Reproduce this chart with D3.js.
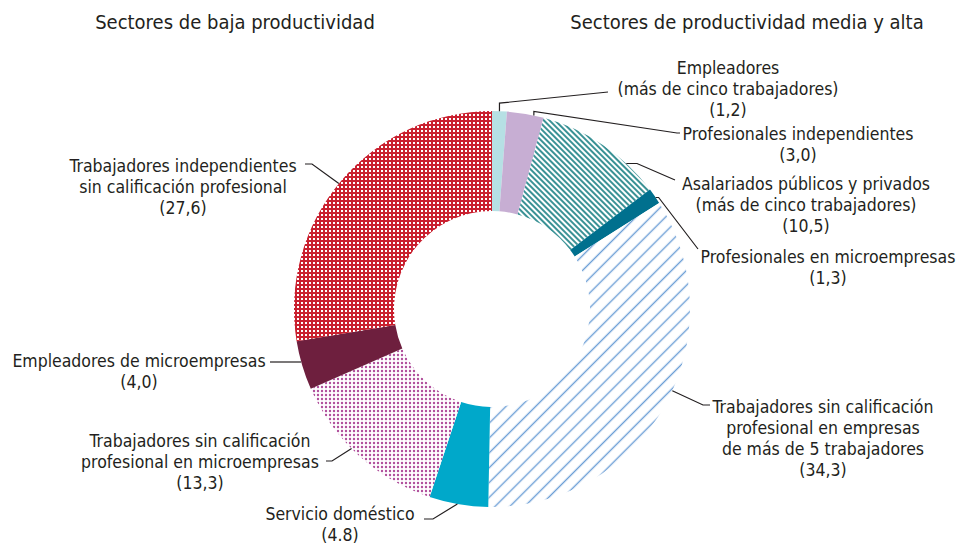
<!DOCTYPE html>
<html>
<head>
<meta charset="utf-8">
<script src="https://cdn.jsdelivr.net/npm/d3@7"></script>
<style>
  html, body { margin: 0; padding: 0; background: #fff; }
  svg text { font-family: "Liberation Sans Narrow", "DejaVu Sans Condensed", "Roboto", sans-serif; fill: #231f20; }
</style>
</head>
<body>
<svg id="chart" width="961" height="544"></svg>
<script>
// ---- Data ----
const categories = [
  "Empleadores (más de cinco trabajadores)",
  "Profesionales independientes",
  "Asalariados públicos y privados (más de cinco trabajadores)",
  "Profesionales en microempresas",
  "Trabajadores sin calificación profesional en empresas de más de 5 trabajadores",
  "Servicio doméstico",
  "Trabajadores sin calificación profesional en microempresas",
  "Empleadores de microempresas",
  "Trabajadores independientes sin calificación profesional"
];
const values = [1.2, 3.0, 10.5, 1.3, 34.3, 4.8, 13.3, 4.0, 27.6];
const valueLabels = ["(1,2)", "(3,0)", "(10,5)", "(1,3)", "(34,3)", "(4.8)", "(13,3)", "(4,0)", "(27,6)"];
const labelLines = [
  ["Empleadores", "(más de cinco trabajadores)"],
  ["Profesionales independientes"],
  ["Asalariados públicos y privados", "(más de cinco trabajadores)"],
  ["Profesionales en microempresas"],
  ["Trabajadores sin calificación", "profesional en empresas", "de más de 5 trabajadores"],
  ["Servicio doméstico"],
  ["Trabajadores sin calificación", "profesional en microempresas"],
  ["Empleadores de microempresas"],
  ["Trabajadores independientes", "sin calificación profesional"]
];
const titles = ["Sectores de baja productividad", "Sectores de productividad media y alta"];

// ---- Styles / layout ----
const fills = ["#b6e0e4", "#c7aed3", "url(#hatchTeal)", "#00708e", "url(#hatchBlue)", "#00a8ca", "url(#dotsPink)", "#6e1f3e", "url(#dotsRed)"];
const cx = 492, cy = 309, rOuter = 198, rInner = 98;
// label layout: text center x, first baseline y, anchor fraction in slice, leader path pieces
const layout = [
  {x: 728, y: 74,  f: 0.5,  pts: a => [a, [a[0], a[1] - 8], [608, 92]]},
  {x: 798, y: 140, f: 0.73, pts: a => [a, [a[0], a[1] - 4], [677, 133], [680, 133]]},
  {x: 806, y: 190, f: 0.73, pts: a => [a, [637, a[1]], [675, 180]]},
  {x: 828, y: 263, f: 0.6,  pts: a => [a, [a[0] + 3, a[1]], [698, 249]]},
  {x: 823, y: 413, f: 0.46, pts: a => [a, [703, 405], [710, 405]]},
  {x: 340, y: 520, f: 0.52, pts: a => [a, [433, 519], [424, 519]]},
  {x: 200, y: 447, f: 0.56, pts: a => [a, [332, 461], [326, 461]]},
  {x: 139, y: 367, f: 0.58, pts: a => [[a[0], 362], [270, 362]]},
  {x: 183, y: 172, f: 0.49, pts: a => [a, [312, 164], [305, 164]]}
];
const lineH = 21;

const svg = d3.select("#chart");
const defs = svg.append("defs");

// red background with white dots
const pr = defs.append("pattern").attr("id", "dotsRed").attr("patternUnits", "userSpaceOnUse")
  .attr("width", 4).attr("height", 4);
pr.append("rect").attr("width", 4).attr("height", 4).attr("fill", "#c9202f");
pr.append("rect").attr("x", 1).attr("y", 1).attr("width", 2).attr("height", 2).attr("fill", "#fff");

// pink dots on white
const pp = defs.append("pattern").attr("id", "dotsPink").attr("patternUnits", "userSpaceOnUse")
  .attr("width", 4).attr("height", 4);
pp.append("rect").attr("width", 4).attr("height", 4).attr("fill", "#fff");
pp.append("circle").attr("cx", 2).attr("cy", 2).attr("r", 1.2).attr("fill", "#b04f9c");

// teal hatch "\"
const pt = defs.append("pattern").attr("id", "hatchTeal").attr("patternUnits", "userSpaceOnUse")
  .attr("width", 4).attr("height", 4).attr("patternTransform", "rotate(-45)");
pt.append("rect").attr("width", 4).attr("height", 4).attr("fill", "#fff");
pt.append("line").attr("x1", 2).attr("y1", 0).attr("x2", 2).attr("y2", 4)
  .attr("stroke", "#24868a").attr("stroke-width", 1.8);

// blue hatch "/"
const pb = defs.append("pattern").attr("id", "hatchBlue").attr("patternUnits", "userSpaceOnUse")
  .attr("width", 10.5).attr("height", 10.5).attr("patternTransform", "rotate(45)");
pb.append("rect").attr("width", 10.5).attr("height", 10.5).attr("fill", "#fff");
pb.append("line").attr("x1", 5.25).attr("y1", 0).attr("x2", 5.25).attr("y2", 10.5)
  .attr("stroke", "#6c9fd6").attr("stroke-width", 1.4);

const data = categories.map((c, i) => ({cat: c, value: values[i], i}));
const pie = d3.pie().value(d => d.value).sort(null).startAngle(0).endAngle(2 * Math.PI);
const arcs = pie(data);
const arc = d3.arc().innerRadius(rInner).outerRadius(rOuter);

const g = svg.append("g").attr("transform", `translate(${cx},${cy})`);
g.selectAll("path.slice").data(arcs).join("path")
  .attr("class", "slice")
  .attr("d", arc)
  .attr("fill", d => fills[d.data.i]);

// titles
svg.append("text").attr("x", 235).attr("y", 29).attr("text-anchor", "middle")
  .style("font-size", "20px").text(titles[0]);
svg.append("text").attr("x", 747).attr("y", 29).attr("text-anchor", "middle")
  .style("font-size", "20px").text(titles[1]);

// leaders and labels
const line = d3.line();
arcs.forEach(d => {
  const L = layout[d.data.i];
  const ang = d.startAngle + (d.endAngle - d.startAngle) * L.f;
  const a = [cx + rOuter * Math.sin(ang), cy - rOuter * Math.cos(ang)];
  svg.append("path").attr("d", line(L.pts(a)))
    .attr("fill", "none").attr("stroke", "#231f20").attr("stroke-width", 1.2);
  const lines = labelLines[d.data.i].concat([valueLabels[d.data.i]]);
  const t = svg.append("text").attr("text-anchor", "middle").style("font-size", "17.5px");
  lines.forEach((s, k) => {
    t.append("tspan").attr("x", L.x).attr("y", L.y + k * lineH).text(s);
  });
});
</script>
</body>
</html>
